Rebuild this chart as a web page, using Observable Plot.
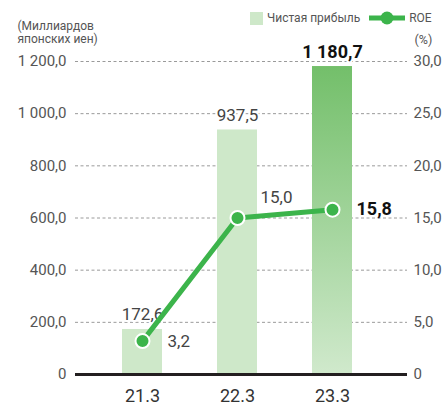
<!DOCTYPE html>
<html><head><meta charset="utf-8">
<script src="https://cdn.jsdelivr.net/npm/d3@7"></script>
<script src="https://cdn.jsdelivr.net/npm/@observablehq/plot@0.6"></script>
<style>
body{margin:0;background:#fff;font-family:Roboto,"Noto Sans",sans-serif;}
#wrap{position:relative;width:444px;height:406px;}
#legend{position:absolute;left:250px;top:11px;font-size:12px;color:#555;display:flex;align-items:center;white-space:nowrap;}
</style></head>
<body><div id="wrap"><div id="legend"></div></div>
<script>
const years = ["21.3", "22.3", "23.3"];
const netProfit = [172.6, 937.5, 1180.7];
const roe = [3.2, 15.0, 15.8];
const leftTicks = [0, 200, 400, 600, 800, 1000, 1200];
const rightTicks = [0, 5, 10, 15, 20, 25, 30];
const leftTitle = "(Миллиардов\nяпонских иен)";
const rightTitle = "(%)";
const seriesNames = ["Чистая прибыль", "ROE"];

const ratio = leftTicks[leftTicks.length-1] / rightTicks[rightTicks.length-1];
const loc = d3.formatLocale({decimal: ",", thousands: "\u00a0", grouping: [3]});
const f1 = loc.format(",.1f");
const fmt = d => d === 0 ? "0" : f1(d);

const data = years.map((y, i) => ({year: y, np: netProfit[i], roe: roe[i], last: i === years.length - 1}));

const gradDefs = () => {
  const defs = d3.create("svg:defs");
  const g = defs.append("linearGradient").attr("id", "barGrad").attr("x1", 0).attr("y1", 0).attr("x2", 0).attr("y2", 1);
  g.append("stop").attr("offset", "0%").attr("stop-color", "#73bf6a");
  g.append("stop").attr("offset", "100%").attr("stop-color", "#d0e9cc");
  return defs.node();
};

const halo = {stroke: "white", strokeWidth: 4};

const chart = Plot.plot({
  width: 444, height: 406,
  marginTop: 61, marginBottom: 32, marginLeft: 75, marginRight: 37,
  style: {fontFamily: "Roboto, 'Noto Sans', sans-serif", background: "transparent"},
  x: {domain: years, range: [94.5, 379.5], paddingInner: 0.58, paddingOuter: 0.29, label: null},
  y: {domain: [0, 1200], label: null},
  marks: [
    gradDefs,
    Plot.gridY(leftTicks.filter(d => d > 0), {stroke: "#9a9a9a", strokeOpacity: 1, strokeDasharray: "3,2.5", strokeWidth: 1}),
    Plot.barY(data, {x: "year", y: "np", fill: d => d.last ? "url(#barGrad)" : "#cee8c9"}),
    Plot.ruleY([0], {stroke: "#231f20", strokeWidth: 3}),
    Plot.axisY(leftTicks, {anchor: "left", tickSize: 0, tickPadding: 9, tickFormat: fmt, fontSize: 15, fill: "#555", label: null}),
    Plot.axisY(leftTicks, {anchor: "right", tickSize: 0, tickPadding: 6, tickFormat: d => fmt(d / ratio), fontSize: 15, fill: "#555", label: null}),
    Plot.axisX({tickSize: 0, tickPadding: 15, fontSize: 18, fill: "#333", label: null}),
    Plot.text([leftTitle], {frameAnchor: "top-left", textAnchor: "start", lineAnchor: "top", dx: -58, dy: -40, fontSize: 12, fill: "#555", lineHeight: 1.05}),
    Plot.text([rightTitle], {frameAnchor: "top-right", textAnchor: "start", lineAnchor: "top", dx: 7, dy: -26, fontSize: 12.5, fill: "#555"}),
    Plot.text(data.filter(d => !d.last), {x: "year", y: "np", text: d => fmt(d.np), dy: -9, lineAnchor: "bottom", fontSize: 17, fill: "#444", ...halo}),
    Plot.text(data.filter(d => d.last), {x: "year", y: "np", text: d => fmt(d.np), dy: -9, lineAnchor: "bottom", fontSize: 18, fontWeight: "bold", fill: "#111", ...halo}),
    Plot.line(data, {x: "year", y: d => d.roe * ratio, stroke: "#3cb44b", strokeWidth: 5}),
    Plot.dot(data, {x: "year", y: d => d.roe * ratio, r: 7, fill: "#3cb44b", stroke: "white", strokeWidth: 2}),
    Plot.text(data.filter((d, i) => i === 0), {x: "year", y: d => d.roe * ratio, text: d => fmt(d.roe), textAnchor: "start", dx: 25, fontSize: 17, fill: "#444"}),
    Plot.text(data.filter((d, i) => i === 1), {x: "year", y: d => d.roe * ratio, text: d => fmt(d.roe), textAnchor: "start", dx: 23, dy: -15, lineAnchor: "bottom", fontSize: 17, fill: "#444", ...halo}),
    Plot.text(data.filter(d => d.last), {x: "year", y: d => d.roe * ratio, text: d => fmt(d.roe), textAnchor: "start", dx: 24, fontSize: 18, fontWeight: "bold", fill: "#111"})
  ]
});
d3.select(chart).selectAll("text").attr("paint-order", "stroke");
document.getElementById("wrap").prepend(chart);
const legend = document.getElementById("legend");
legend.innerHTML = `<svg width="13" height="13" style="margin-right:4px"><rect width="13" height="13" fill="#cee8c9"/></svg><span>${seriesNames[0]}</span>` +
  `<svg width="36" height="14" style="margin:0 4px 0 9px"><line x1="0" x2="36" y1="7" y2="7" stroke="#3cb44b" stroke-width="5"/><circle cx="18" cy="7" r="6.5" fill="#3cb44b"/></svg><span>${seriesNames[1]}</span>`;
chart.style.position = "absolute"; chart.style.left = "0"; chart.style.top = "0";
legend.style.zIndex = 2;
</script>
</body></html>
